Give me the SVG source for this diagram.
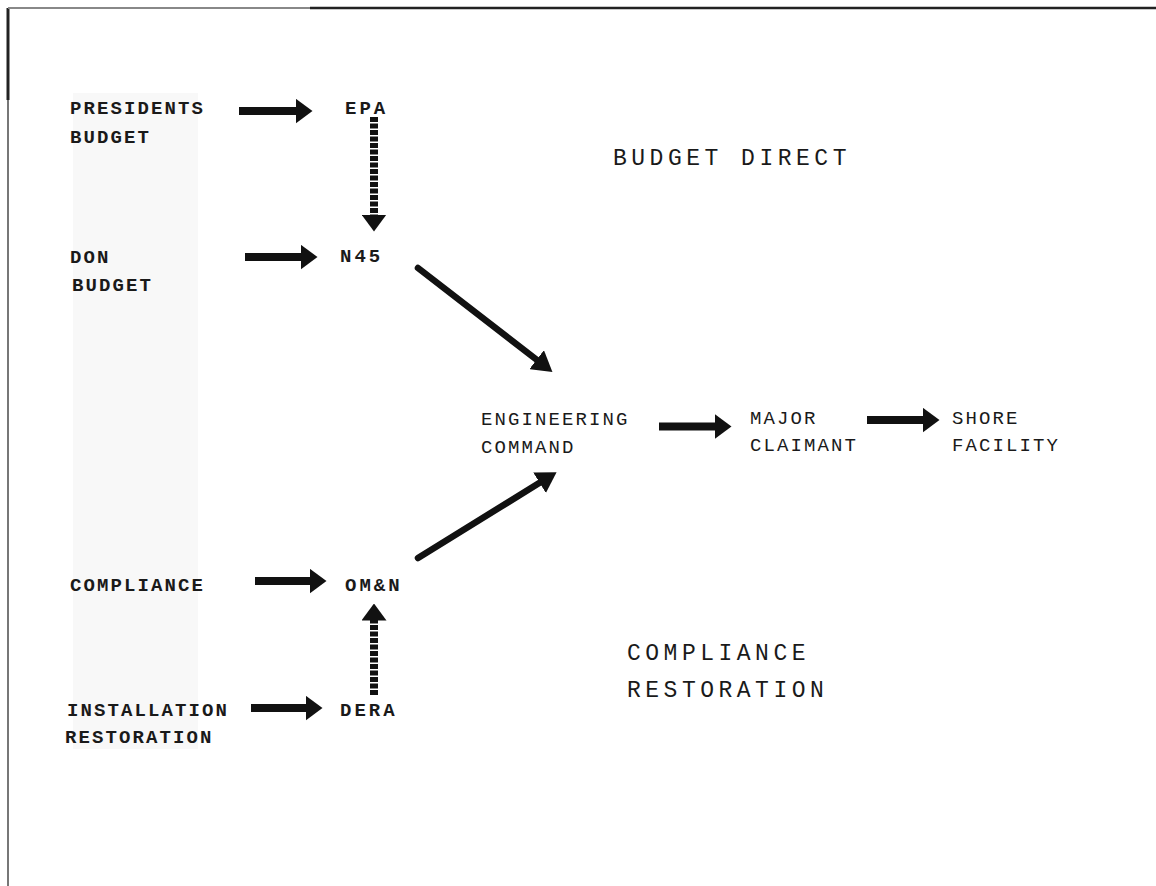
<svg xmlns="http://www.w3.org/2000/svg" width="1156" height="886" viewBox="0 0 1156 886">
  <style>
    .bold { font-family: "Liberation Mono", "Courier New", monospace; font-size: 19px; font-weight: bold; fill: #1a1a1a; letter-spacing: 2.1px; }
    .box { font-family: "Liberation Mono", "Courier New", monospace; font-size: 19px; font-weight: bold; fill: #1a1a1a; letter-spacing: 3px; }
    .mid { font-family: "Liberation Mono", "Courier New", monospace; font-size: 19px; fill: #1a1a1a; letter-spacing: 2.1px; }
    .big { font-family: "Liberation Mono", "Courier New", monospace; font-size: 23px; fill: #1a1a1a; letter-spacing: 4.5px; }
    .shaft { stroke: #111; stroke-width: 8; fill: none; }
    .dash { stroke: #111; stroke-width: 8; fill: none; stroke-dasharray: 5 1.5; }
    .diag { stroke: #111; stroke-width: 6.5; fill: none; stroke-linecap: round; }
  </style>
  <defs>
    <marker id="head" markerUnits="userSpaceOnUse" viewBox="0 0 17 25" refX="0.5" refY="12.5" markerWidth="17" markerHeight="25" orient="auto">
      <path d="M0,0 L17,12.5 L0,25 Z" fill="#111"/>
    </marker>
    <marker id="head2" markerUnits="userSpaceOnUse" viewBox="0 0 20 24" refX="0.5" refY="12" markerWidth="20" markerHeight="24" orient="auto">
      <path d="M0,0 L20,12 L0,24 Z" fill="#111"/>
    </marker>
  </defs>
  <rect width="1156" height="886" fill="#ffffff"/>
  <!-- faint band behind left labels -->
  <rect x="73" y="93" width="125" height="656" fill="#f8f8f8"/>
  <!-- frame -->
  <g id="frame">
    <line x1="8" y1="8" x2="8" y2="886" stroke="#777" stroke-width="2"/>
    <line x1="8" y1="8" x2="8" y2="100" stroke="#222" stroke-width="3"/>
    <line x1="8" y1="8" x2="310" y2="8" stroke="#888" stroke-width="2"/>
    <line x1="310" y1="8" x2="1156" y2="8" stroke="#222" stroke-width="2.5"/>
  </g>

  <g id="connectors">
    <line class="shaft" x1="239" y1="111" x2="296" y2="111" marker-end="url(#head)"/>
    <line class="dash" x1="374" y1="117" x2="374" y2="215" marker-end="url(#head)"/>
    <line class="shaft" x1="245" y1="257" x2="301" y2="257" marker-end="url(#head)"/>
    <line class="diag" x1="418" y1="268" x2="537" y2="360" marker-end="url(#head2)"/>
    <line class="diag" x1="418" y1="558" x2="540" y2="482.5" marker-end="url(#head2)"/>
    <line class="shaft" x1="659" y1="426.5" x2="715" y2="426.5" marker-end="url(#head)"/>
    <line class="shaft" x1="867" y1="420" x2="923" y2="420" marker-end="url(#head)"/>
    <line class="shaft" x1="255" y1="581" x2="310" y2="581" marker-end="url(#head)"/>
    <line class="dash" x1="374" y1="695" x2="374" y2="620" marker-end="url(#head)"/>
    <line class="shaft" x1="251" y1="708" x2="306" y2="708" marker-end="url(#head)"/>
  </g>

  <g id="presidents-budget"><text class="bold" x="70" y="114">PRESIDENTS</text><text class="bold" x="70" y="143">BUDGET</text></g>
  <g id="epa"><text class="box" x="345" y="114">EPA</text></g>
  <g id="don-budget"><text class="bold" x="70" y="263">DON</text><text class="bold" x="72" y="291">BUDGET</text></g>
  <g id="n45"><text class="box" x="340" y="262">N45</text></g>
  <g id="budget-direct"><text class="big" x="613" y="165">BUDGET DIRECT</text></g>
  <g id="engineering-command"><text class="mid" x="481" y="425">ENGINEERING</text><text class="mid" x="481" y="453">COMMAND</text></g>
  <g id="major-claimant"><text class="mid" x="750" y="424">MAJOR</text><text class="mid" x="750" y="451">CLAIMANT</text></g>
  <g id="shore-facility"><text class="mid" x="952" y="424">SHORE</text><text class="mid" x="952" y="451">FACILITY</text></g>
  <g id="compliance"><text class="bold" x="70" y="591">COMPLIANCE</text></g>
  <g id="omn"><text class="box" x="345" y="591">OM&amp;N</text></g>
  <g id="installation-restoration"><text class="bold" x="67" y="716">INSTALLATION</text><text class="bold" x="65" y="743">RESTORATION</text></g>
  <g id="dera"><text class="box" x="340" y="716">DERA</text></g>
  <g id="compliance-restoration"><text class="big" x="627" y="660">COMPLIANCE</text><text class="big" x="627" y="697">RESTORATION</text></g>
</svg>
